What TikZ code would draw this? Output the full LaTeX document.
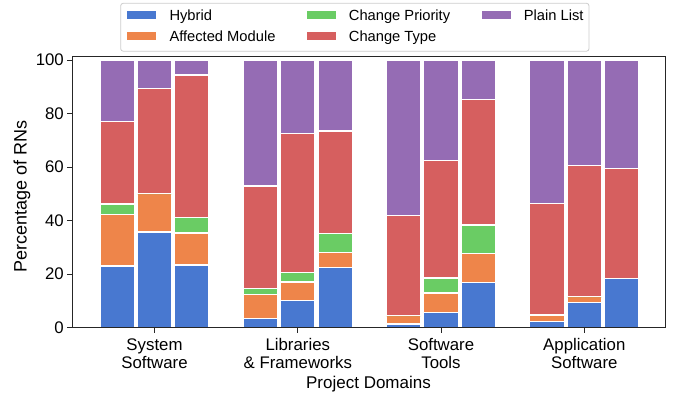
\documentclass[tikz,border=0pt]{standalone}
\usepackage{fontspec}
\setmainfont{Liberation Sans}
\definecolor{hybridc}{HTML}{4878D0}
\definecolor{modulec}{HTML}{EE854A}
\definecolor{priorityc}{HTML}{6ACC64}
\definecolor{typec}{HTML}{D65F5F}
\definecolor{plainc}{HTML}{956CB4}
\begin{document}
\begin{tikzpicture}[x=1pt, y=1pt,
		seg/.style={draw=white, line width=1.4pt},
		ticklab/.style={font=\fontsize{16.8}{18}\selectfont},
		legtext/.style={font=\fontsize{14.7}{17}\selectfont, anchor=base west, inner sep=0pt}]
	\useasboundingbox (0,0) rectangle (678,397);
	\begin{scope}[shift={(0,69.5)}, y=2.675pt]
		\foreach \xc/\a/\b/\c/\d in {117.2/23.0/42.2/46.2/76.9, 154.5/35.7/50.0/50.0/89.4, 191.8/23.4/35.3/41.2/94.4,
			260.5/3.3/12.3/14.5/52.9, 297.8/10.2/17.0/20.5/72.5, 335.1/22.4/28.1/35.2/73.5,
			403.7/1.3/4.4/4.4/41.8, 441.0/5.5/12.9/18.5/62.4, 478.3/16.9/27.6/38.3/85.3,
			547.0/2.2/4.7/4.7/46.3, 584.3/9.3/11.5/11.5/60.5, 621.6/18.4/18.4/18.4/59.4}{
			\filldraw[seg, fill=hybridc] (\xc-17.3,0) rectangle (\xc+17.3,\a);
			\filldraw[seg, fill=modulec] (\xc-17.3,\a) rectangle (\xc+17.3,\b);
			\filldraw[seg, fill=priorityc] (\xc-17.3,\b) rectangle (\xc+17.3,\c);
			\filldraw[seg, fill=typec] (\xc-17.3,\c) rectangle (\xc+17.3,\d);
			\filldraw[seg, fill=plainc] (\xc-17.3,\d) rectangle (\xc+17.3,100);
		}
		\draw[black!85, line width=0.8pt] (72,0) rectangle (665,101.2);
		\foreach \v in {0,20,...,100}
			\draw[black!85, line width=0.8pt] (72,\v) -- (66.7,\v) node[left, inner sep=2.5pt, ticklab, black] (ytick\v) {\v};
		\foreach \xc/\lab/\nm in {154.5/{System\\Software}/sys, 297.8/{Libraries\\\& Frameworks}/lib, 441.0/{Software\\Tools}/tools, 584.3/{Application\\Software}/app}
			\draw[black!85, line width=0.8pt] (\xc,0) -- (\xc,-1.9) node[anchor=north, inner sep=0pt, yshift=-5.7pt, align=center, ticklab, black] (xtick\nm) {\lab};
	\end{scope}
	\node[anchor=base, inner sep=0pt, font=\fontsize{17}{20}\selectfont] (xlabel) at (368.5,8.7) {Project Domains};
	\node[anchor=base, inner sep=0pt, rotate=90, font=\fontsize{18}{21}\selectfont] (ylabel) at (26.7,200.3) {Percentage of RNs};
	\draw[black!20, line width=0.8pt, rounded corners=2.5pt, fill=white] (120.7,345.8) rectangle (589,393.7);
	\foreach \px/\py/\col/\txt/\nm in {127.3/382/hybridc/Hybrid/hyb, 127.3/360.7/modulec/Affected Module/mod,
		306.7/382/priorityc/Change Priority/pri, 306.7/360.7/typec/Change Type/typ, 481.7/382/plainc/Plain List/pla}{
		\fill[\col] (\px,\py-4.2) rectangle (\px+28.8,\py+4.2);
		\node[legtext] (leg\nm) at (\px+42,\py-5.6) {\txt};
	}
\end{tikzpicture}
\end{document}
